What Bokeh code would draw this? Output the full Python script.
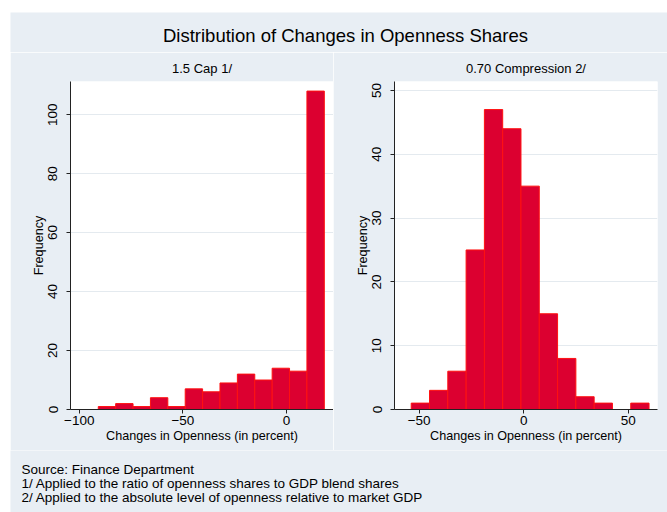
from bokeh.plotting import figure
from bokeh.layouts import column, row
from bokeh.models import ColumnDataSource, FixedTicker, Range1d
from bokeh.embed import file_html
from bokeh.resources import INLINE
from bokeh.core.properties import value

# ---------------- data ----------------
title_text = "Distribution of Changes in Openness Shares"
sub_left = "1.5 Cap 1/"
sub_right = "0.70 Compression 2/"
x_label = "Changes in Openness (in percent)"
y_label = "Frequency"
notes = [
    "Source: Finance Department",
    "1/ Applied to the ratio of openness shares to GDP blend shares",
    "2/ Applied to the absolute level of openness relative to market GDP",
]

left_bin_start = -90.8
left_bin_width = 8.39
left_counts = [1, 2, 1, 4, 1, 7, 6, 9, 12, 10, 14, 13, 108]
left_xticks = [-100, -50, 0]
left_yticks = [0, 20, 40, 60, 80, 100]

right_bin_start = -53.8
right_bin_width = 8.75
right_counts = [1, 3, 6, 25, 47, 44, 35, 15, 8, 2, 1, 0, 1]
right_xticks = [-50, 0, 50]
right_yticks = [0, 10, 20, 30, 40, 50]

# ---------------- style ----------------
BG = "#e8eef4"
FONT = "Liberation Sans"
BAR_FILL = "#dc0030"
BAR_LINE = "#ff1010"
GRID = "#e4eaef"


def panel(counts, start, width, xr, yr, xticks, yticks, sub, w, b_left, b_right):
    lefts, rights, tops = [], [], []
    for i, c in enumerate(counts):
        if c > 0:
            lefts.append(start + i * width)
            rights.append(start + (i + 1) * width)
            tops.append(c)
    src = ColumnDataSource(dict(left=lefts, right=rights, top=tops))
    p = figure(width=w, height=398, x_range=Range1d(*xr), y_range=Range1d(*yr),
               output_backend="svg", toolbar_location=None,
               min_border_left=b_left, min_border_right=b_right,
               min_border_top=28, min_border_bottom=41,
               background_fill_color="white", border_fill_color=BG,
               outline_line_color=None)
    p.quad(left="left", right="right", top="top", bottom=0, source=src,
           fill_color=BAR_FILL, line_color=BAR_LINE, line_width=1)
    p.title.text = sub
    p.title.align = "center"
    p.title.text_font = FONT
    p.title.text_font_size = "13px"
    p.title.text_font_style = "normal"
    p.title.text_color = "black"
    p.title.standoff = 12

    for ax in (p.xaxis[0], p.yaxis[0]):
        ax.axis_line_color = "#222222"
        ax.major_tick_line_color = "#222222"
        ax.minor_tick_line_color = None
        ax.major_tick_out = 4
        ax.major_tick_in = 0
        ax.major_label_text_font = FONT
        ax.major_label_text_font_size = "13.5px"
        ax.major_label_text_color = "black"
        ax.axis_label_text_font = FONT
        ax.axis_label_text_font_size = "12.6px"
        ax.axis_label_text_font_style = "normal"
        ax.axis_label_text_color = "black"
    p.xaxis.ticker = FixedTicker(ticks=xticks)
    p.yaxis.ticker = FixedTicker(ticks=yticks)
    p.xaxis.axis_label = x_label
    p.yaxis.axis_label = y_label
    p.xaxis.major_label_standoff = 2
    p.xaxis.axis_label_standoff = 1
    p.yaxis.major_label_standoff = 9
    p.yaxis.axis_label_standoff = 0
    p.yaxis.major_label_orientation = "vertical"
    p.xgrid.visible = False
    p.ygrid.ticker = FixedTicker(ticks=yticks)
    p.ygrid.grid_line_color = GRID
    p.ygrid.grid_line_width = 1
    return p


p1 = panel(left_counts, left_bin_start, left_bin_width, (-104.2, 22.7), (0, 111.25),
           left_xticks, left_yticks, sub_left, 323, 60, 0)
p2 = panel(right_counts, right_bin_start, right_bin_width, (-61.8, 64.0), (0, 51.4),
           right_xticks, right_yticks, sub_right, 334, 61, 10)

W = 657
top = figure(width=W, height=40, x_range=Range1d(0, W), y_range=Range1d(0, 40),
             output_backend="svg", toolbar_location=None,
             x_axis_location=None, y_axis_location=None,
             min_border=0, background_fill_color=BG, border_fill_color=BG,
             outline_line_color=None)
top.grid.visible = False
top.text(x=[335], y=[17], text=[title_text], text_font=value(FONT),
         text_font_size="18.5px", text_align="center", text_baseline="middle",
         text_color="black")

bot = figure(width=W, height=62, x_range=Range1d(0, W), y_range=Range1d(0, 62),
             output_backend="svg", toolbar_location=None,
             x_axis_location=None, y_axis_location=None,
             min_border=0, background_fill_color=BG, border_fill_color=BG,
             outline_line_color=None)
bot.grid.visible = False
bot.text(x=[11, 11, 11], y=[43, 29, 15], text=notes, text_font=value(FONT),
         text_font_size="13.5px", text_align="left", text_baseline="middle",
         text_color="black")

layout = column(top, row(p1, p2), bot, margin=(12, 0, 0, 10))
open("out.html", "w").write(file_html(layout, INLINE))
